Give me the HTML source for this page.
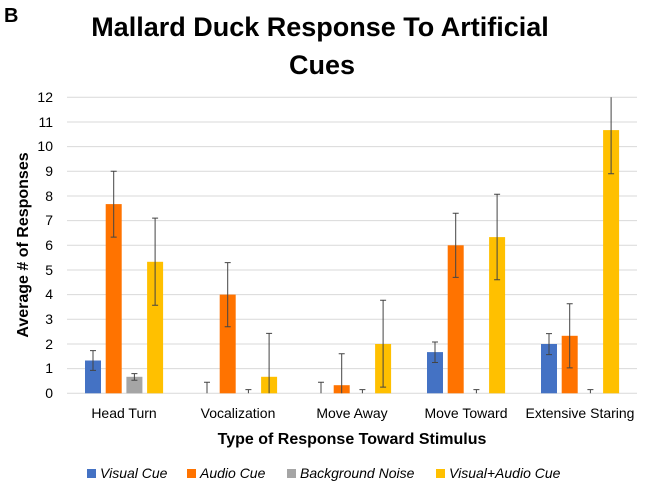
<!DOCTYPE html>
<html><head><style>
body{margin:0;background:#fff;}
svg text{font-family:"Liberation Sans",sans-serif;}
</style></head><body>
<svg width="648" height="492" xmlns="http://www.w3.org/2000/svg">
<rect width="648" height="492" fill="#fff"/>
<text x="4" y="22" font-size="20" font-weight="bold">B</text>
<text x="320" y="36" font-size="27" font-weight="bold" text-anchor="middle">Mallard Duck Response To Artificial</text>
<text x="322" y="74" font-size="27" font-weight="bold" text-anchor="middle">Cues</text>
<g stroke="#d9d9d9" stroke-width="1">
<line x1="67" x2="637" y1="97.3" y2="97.3"/><line x1="67" x2="637" y1="122" y2="122"/><line x1="67" x2="637" y1="146.6" y2="146.6"/><line x1="67" x2="637" y1="171.3" y2="171.3"/><line x1="67" x2="637" y1="196" y2="196"/><line x1="67" x2="637" y1="220.6" y2="220.6"/><line x1="67" x2="637" y1="245.3" y2="245.3"/><line x1="67" x2="637" y1="270" y2="270"/><line x1="67" x2="637" y1="294.6" y2="294.6"/><line x1="67" x2="637" y1="319.3" y2="319.3"/><line x1="67" x2="637" y1="344" y2="344"/><line x1="67" x2="637" y1="368.6" y2="368.6"/><line x1="67" x2="637" y1="393.3" y2="393.3"/>
</g>
<g font-size="14" text-anchor="end">
<text x="53" y="102">12</text><text x="53" y="127">11</text><text x="53" y="151">10</text><text x="53" y="176">9</text><text x="53" y="201">8</text><text x="53" y="225">7</text><text x="53" y="250">6</text><text x="53" y="275">5</text><text x="53" y="299">4</text><text x="53" y="324">3</text><text x="53" y="349">2</text><text x="53" y="373">1</text><text x="53" y="398">0</text>
</g>
<rect x="85" y="360.5" width="16" height="32.8" fill="#4472c4"/>
<rect x="105.7" y="204.1" width="16" height="189.2" fill="#ff7300"/>
<rect x="126.4" y="376.8" width="16" height="16.5" fill="#a5a5a5"/>
<rect x="147.1" y="261.8" width="16" height="131.5" fill="#ffc000"/>
<rect x="219.7" y="294.6" width="16" height="98.7" fill="#ff7300"/>
<rect x="261.1" y="376.8" width="16" height="16.5" fill="#ffc000"/>
<rect x="333.7" y="385.2" width="16" height="8.1" fill="#ff7300"/>
<rect x="375.1" y="344" width="16" height="49.3" fill="#ffc000"/>
<rect x="427" y="352.1" width="16" height="41.2" fill="#4472c4"/>
<rect x="447.7" y="245.3" width="16" height="148" fill="#ff7300"/>
<rect x="489.1" y="237.1" width="16" height="156.2" fill="#ffc000"/>
<rect x="541" y="344" width="16" height="49.3" fill="#4472c4"/>
<rect x="561.7" y="335.8" width="16" height="57.5" fill="#ff7300"/>
<rect x="603.1" y="130.1" width="16" height="263.2" fill="#ffc000"/>
<g stroke="#444" stroke-width="1" fill="none">
<path d="M93 350.6V370.4M90 350.6h6M90 370.4h6"/>
<path d="M113.7 171.3V237.1M110.7 171.3h6M110.7 237.1h6"/>
<path d="M134.4 373.6V380.2M131.4 373.6h6M131.4 380.2h6"/>
<path d="M155.1 218.1V305.2M152.1 218.1h6M152.1 305.2h6"/>
<path d="M207 382.2V393.3M204 382.2h6"/>
<path d="M227.7 262.6V326.7M224.7 262.6h6M224.7 326.7h6"/>
<path d="M248.4 389.6V393.3M245.4 389.6h6"/>
<path d="M269.1 333.4V393.3M266.1 333.4h6"/>
<path d="M321 382.2V393.3M318 382.2h6"/>
<path d="M341.7 353.8V393.3M338.7 353.8h6"/>
<path d="M362.4 389.6V393.3M359.4 389.6h6"/>
<path d="M383.1 300.3V387.1M380.1 300.3h6M380.1 387.1h6"/>
<path d="M435 342V362.5M432 342h6M432 362.5h6"/>
<path d="M455.7 213.2V277.4M452.7 213.2h6M452.7 277.4h6"/>
<path d="M476.4 389.6V393.3M473.4 389.6h6"/>
<path d="M497.1 194.2V279.8M494.1 194.2h6M494.1 279.8h6"/>
<path d="M549 333.6V354.6M546 333.6h6M546 354.6h6"/>
<path d="M569.7 303.7V367.9M566.7 303.7h6M566.7 367.9h6"/>
<path d="M590.4 389.6V393.3M587.4 389.6h6"/>
<path d="M611.1 97.3V173.7M608.1 173.7h6"/>
</g>
<g font-size="14" text-anchor="middle">
<text x="124" y="418">Head Turn</text><text x="238" y="418">Vocalization</text><text x="352" y="418">Move Away</text><text x="466" y="418">Move Toward</text><text x="580" y="418">Extensive Staring</text>
</g>
<text x="352" y="444" font-size="16" font-weight="bold" text-anchor="middle">Type of Response Toward Stimulus</text>
<text transform="translate(28,245) rotate(-90)" font-size="16" font-weight="bold" text-anchor="middle">Average # of Responses</text>
<g font-size="14" font-style="italic">
<rect x="87" y="469" width="9" height="9" fill="#4472c4"/><text x="100" y="478">Visual Cue</text>
<rect x="187" y="469" width="9" height="9" fill="#ff7300"/><text x="200" y="478">Audio Cue</text>
<rect x="287" y="469" width="9" height="9" fill="#a5a5a5"/><text x="300" y="478">Background Noise</text>
<rect x="436" y="469" width="9" height="9" fill="#ffc000"/><text x="449" y="478">Visual+Audio Cue</text>
</g>
</svg>
</body></html>
